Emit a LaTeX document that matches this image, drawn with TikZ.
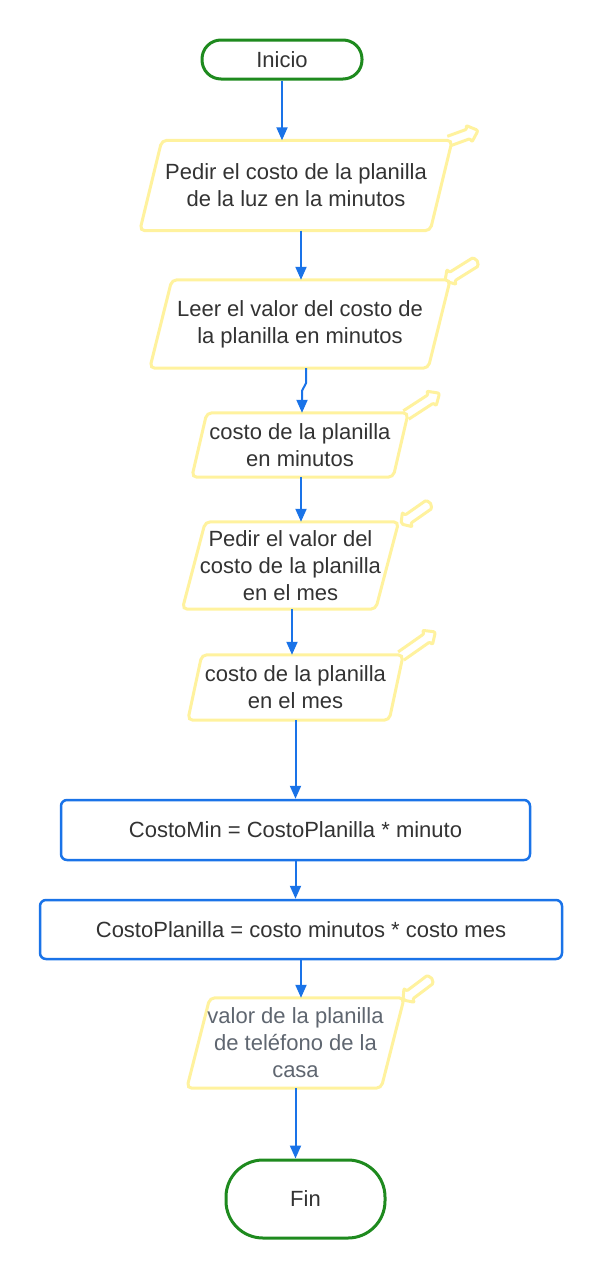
\documentclass[tikz,border=0pt]{standalone}
\usepackage{fontspec}
\setmainfont{Liberation Sans}
\usetikzlibrary{arrows.meta,calc,backgrounds}
\definecolor{tgreen}{HTML}{1E8A1E}
\definecolor{tblue}{HTML}{1A73E8}
\definecolor{tyellow}{HTML}{FFF29E}
\definecolor{ttext}{HTML}{333333}
\definecolor{tgray}{HTML}{5F6670}
\newcommand\paraframe[2]{%
  \draw[paraline] ([xshift=#2/2]#1.north west) -- ([xshift=#2/2]#1.north east)
    -- ([xshift=-#2/2]#1.south east) -- ([xshift=-#2/2]#1.south west) -- cycle;}
\tikzset{
  pics/decoout/.style={code={
    \draw[decoline] (0,5) -- (#1-10,5) -- (#1-10,9) -- (#1,0) -- (#1-10,-9) -- (#1-10,-5) -- (0,-5);}},
  pics/decoin/.style={code={
    \draw[decoline] (0,0) -- (8,-9) -- (8,-5) -- (#1-5,-5) arc(-90:90:5) -- (8,5) -- (8,9) -- cycle;}},
}
\begin{document}
\begin{tikzpicture}[x=1pt,y=-1pt,
  every node/.style={font=\fontsize{22}{27}\selectfont, text=ttext, align=center, inner sep=0pt},
  term/.style={draw=tgreen, line width=3pt, fill=white, rectangle},
  pnode/.style={rectangle},
  procbox/.style={draw=tblue, line width=2.5pt, fill=white, rounded corners=6pt, rectangle},
  paraline/.style={draw=tyellow, line width=3pt, fill=white, rounded corners=5pt},
  decoline/.style={draw=tyellow, line width=3pt, fill=white, rounded corners=2pt, line join=round},
  arr/.style={draw=tblue, line width=2pt, -{Triangle[length=13pt,width=11pt]}},
]
\useasboundingbox (0,0) rectangle (602,1280);

\node[term, minimum width=160pt, minimum height=39pt, rounded corners=19pt] (ini) at (282,59.5) {Inicio};

\node[pnode, minimum width=290pt, minimum height=90pt] (p1) at (296,185.5) {Pedir el costo de la planilla\\de la luz en la minutos};
\node[pnode, minimum width=278pt, minimum height=88pt] (p2) at (300,324) {Leer el valor del costo de\\la planilla en minutos};
\node[pnode, minimum width=201pt, minimum height=64pt] (p3) at (300,445) {costo de la planilla\\en minutos};
\node[pnode, minimum width=193pt, minimum height=87pt] (p4) at (290.5,565.5) {Pedir el valor del\\costo de la planilla\\en el mes};
\node[pnode, minimum width=201pt, minimum height=65pt] (p5) at (295.5,687.5) {costo de la planilla\\en el mes};

\node[procbox, minimum width=469pt, minimum height=60pt] (r1) at (295.5,830) {CostoMin = CostoPlanilla * minuto};
\node[procbox, minimum width=522pt, minimum height=59pt] (r2) at (301,929.5) {CostoPlanilla = costo minutos * costo mes};

\node[pnode, minimum width=194pt, minimum height=90pt, text=tgray] (p6) at (295.5,1043) {valor de la planilla\\de teléfono de la\\casa};

\node[term, minimum width=159pt, minimum height=78pt, rounded corners=37pt] (fin) at (305.5,1199) {Fin};

\begin{scope}[on background layer]
  \pic[rotate=20] at (449,141) {decoout=31};
  \pic[rotate=32] at (445,281) {decoin=38};
  \pic[rotate=33] at (406,415) {decoout=40};
  \pic[rotate=35] at (401,524) {decoin=36};
  \pic[rotate=35] at (401,656) {decoout=42};
  \pic[rotate=37] at (403,1000) {decoin=36};
  \paraframe{p1}{22}
  \paraframe{p2}{22}
  \paraframe{p3}{15}
  \paraframe{p4}{23}
  \paraframe{p5}{14}
  \paraframe{p6}{23}
\end{scope}

\draw[arr] (ini.south) -- (ini.south |- p1.north);
\draw[arr] ([xshift=5pt]p1.south) -- ([xshift=1pt]p2.north);
\draw[arr] ([xshift=6pt]p2.south) -- ([xshift=6pt,yshift=-15pt]p2.south) -- ([xshift=2pt,yshift=22pt]p3.north) -- ([xshift=2pt]p3.north);
\draw[arr] ([xshift=1pt]p3.south) -- ([xshift=1pt]p3.south |- p4.north);
\draw[arr] ([xshift=1.5pt]p4.south) -- ([xshift=1.5pt]p4.south |- p5.north);
\draw[arr] (p5.south) -- (p5.south |- r1.north);
\draw[arr] (r1.south) -- (r1.south |- r2.north);
\draw[arr] (r2.south) -- (r2.south |- p6.north);
\draw[arr] (p6.south) -- (p6.south |- fin.north);
\end{tikzpicture}
\end{document}
